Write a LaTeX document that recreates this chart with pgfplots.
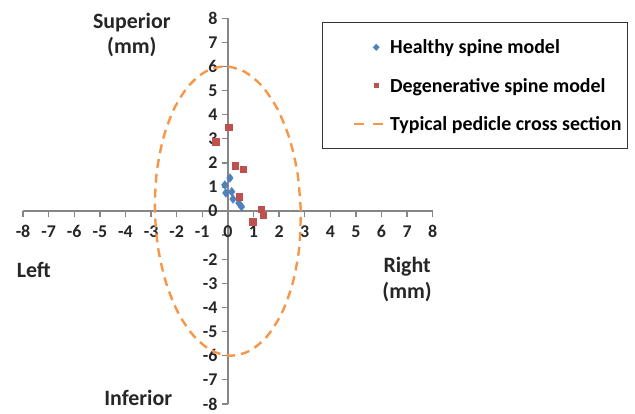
\documentclass[border=0pt]{standalone}
\usepackage{pgfplots}
\pgfplotsset{compat=1.18}
\usepackage{fontspec}
\setmainfont{Carlito}
\definecolor{hblue}{HTML}{4F81BD}
\definecolor{dred}{HTML}{C0504D}
\definecolor{eorange}{HTML}{F79646}
\definecolor{axgray}{HTML}{868686}
\begin{document}
\begin{tikzpicture}
\begin{axis}[
  scale only axis, width=410bp, height=386bp,
  axis lines=center,
  xmin=-8, xmax=8, ymin=-8, ymax=8,
  xtick={-8,...,8}, ytick={-8,...,8},
  yticklabels={-8,-7,-6,-5,-4,-3,-2,{},0,1,2,3,4,5,6,7,8},
  hide obscured x ticks=false, hide obscured y ticks=false,
  axis line style={axgray, line width=2.2pt, -},
  tick style={axgray, line width=1.4pt},
  major tick length=6pt,
  tick align=outside,
  ticklabel style={font=\fontsize{18}{20}\selectfont\bfseries, text=black!85},
  /pgf/number format/assume math mode=true,
  xticklabel style={yshift=-5pt, inner xsep=0pt},
  yticklabel style={xshift=-1pt},
  clip=false,
  legend style={at={(0.729,0.99)}, anchor=north west, draw=black!80, line width=1.1pt,
    font=\fontsize{20}{22}\selectfont\bfseries, inner xsep=4bp, inner ysep=15bp,
    row sep=19bp},
  legend cell align=left,
]
\path (axis cs:-8.9,-8.26) rectangle (axis cs:15.9,8.755);
\addplot[only marks, mark=diamond*, mark size=4.4pt, color=hblue, mark options={fill=hblue, draw=hblue},
  legend image code/.code={\path[draw=none] (0bp,0) -- (62bp,0); \fill[hblue, draw=none] (50bp,3.6bp) -- (53.4bp,0) -- (50bp,-3.6bp) -- (46.6bp,0) -- cycle;}]
  coordinates {(0.08,1.37) (-0.12,1.08) (-0.08,0.75) (0.15,0.8) (0.2,0.5) (0.43,0.33) (0.53,0.18)};
\addlegendentry{Healthy spine model}
\addplot[only marks, mark=square*, mark size=3.3pt, color=dred, mark options={fill=dred, draw=dred},
  legend image code/.code={\path[draw=none] (0bp,0) -- (62bp,0); \fill[dred, draw=none] (47.3bp,-2.7bp) rectangle (52.7bp,2.7bp);}]
  coordinates {(0.04,3.47) (-0.47,2.88) (0.29,1.88) (0.6,1.74) (0.44,0.6) (1.3,0.07) (1.38,-0.17) (0.96,-0.44)};
\addlegendentry{Degenerative spine model}
\addplot[smooth, no marks, color=eorange, line width=2.4pt, dash pattern=on 9pt off 6pt,
  legend image code/.code={\path[draw=none] (0bp,0) -- (62bp,0); \draw[eorange, line width=2.4pt, solid] (28bp,0) -- (38bp,0) (47bp,0) -- (57bp,0);}]
  coordinates {(2.85,0) (2.722,1.553) (2.408,3.0) (1.930,4.243) (1.321,5.196) (0.622,5.796)
   (-0.12,6.0) (-0.854,5.796) (-1.529,5.196) (-2.100,4.243) (-2.528,3.0) (-2.784,1.553)
   (-2.85,0) (-2.722,-1.553) (-2.408,-3.0) (-1.930,-4.243) (-1.321,-5.196) (-0.622,-5.796)
   (0.12,-6.0) (0.854,-5.796) (1.529,-5.196) (2.100,-4.243) (2.528,-3.0) (2.784,-1.553) (2.85,0)};
\addlegendentry{Typical pedicle cross section}
\node[font=\fontsize{22}{25}\selectfont\bfseries, align=center, text=black!85] at (axis cs:-3.75,7.3) {Superior\\(mm)};
\node[font=\fontsize{22}{26}\selectfont\bfseries, text=black!85] at (axis cs:-7.58,-2.45) {Left};
\node[font=\fontsize{22}{26}\selectfont\bfseries, align=center, text=black!85] at (axis cs:7.0,-2.85) {Right\\(mm)};
\node[font=\fontsize{22}{26}\selectfont\bfseries, text=black!85] at (axis cs:-3.5,-7.76) {Inferior};
\end{axis}
\end{tikzpicture}
\end{document}
